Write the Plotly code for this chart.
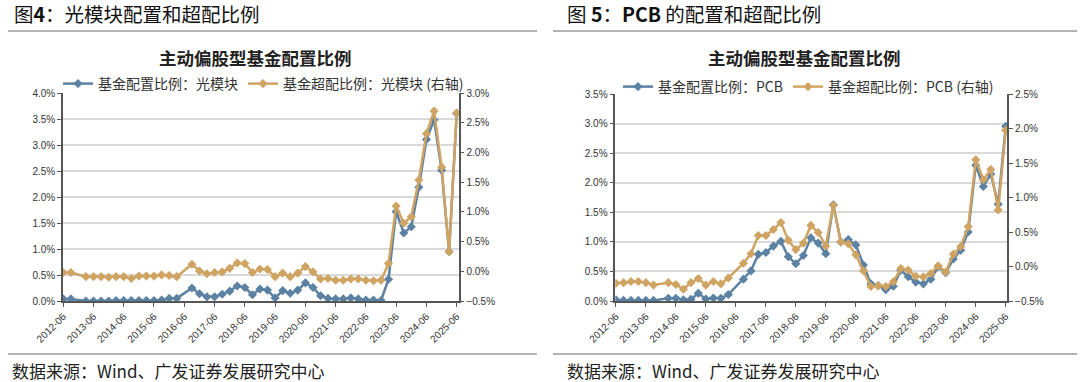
import plotly.graph_objects as go

# ---------------- data ----------------
quarters = [f"{y}-{m:02d}" for y in range(2012, 2026) for m in (3, 6, 9, 12)]
quarters = [q for q in quarters if "2012-06" <= q <= "2025-06"]

# 光模块 (%)
om_alloc = [0.04, 0.04, None, 0.00, 0.00, 0.00, 0.00, 0.01, 0.01, 0.01, 0.01, 0.01, 0.01,
            0.02, 0.05, 0.05, None, 0.25, 0.14, 0.08, 0.08, 0.13, 0.19, 0.29, 0.26, 0.12,
            0.23, 0.21, 0.06, 0.20, 0.15, 0.21, 0.35, 0.26, 0.10, 0.05, 0.04, 0.04, 0.06,
            0.04, 0.02, 0.02, 0.01, 0.42, 1.72, 1.31, 1.43, 2.19, 3.11, 3.49, 2.52, 0.95, 3.61]
om_over = [-0.02, -0.02, None, -0.09, -0.09, -0.09, -0.10, -0.09, -0.09, -0.12, -0.08, -0.08,
           -0.08, -0.06, -0.07, -0.09, None, 0.12, 0.005, -0.04, -0.02, -0.01, 0.05, 0.14,
           0.13, -0.02, 0.04, 0.03, -0.09, -0.03, -0.09, -0.03, 0.08, -0.01, -0.13, -0.12,
           -0.15, -0.15, -0.13, -0.13, -0.15, -0.16, -0.15, 0.13, 1.10, 0.81, 0.92, 1.54,
           2.32, 2.70, 1.76, 0.33, 2.67]

# PCB (%)
pcb_alloc = [0.02, 0.01, 0.01, 0.01, 0.01, 0.01, None, 0.045, 0.045, 0.02, 0.03, 0.13, 0.035,
             0.05, 0.045, 0.11, None, 0.37, 0.51, 0.79, 0.82, 0.93, 1.01, 0.75, 0.63, 0.77,
             1.07, 0.98, 0.80, 1.63, 1.00, 1.04, 0.95, 0.61, 0.29, 0.26, 0.19, 0.25, 0.52,
             0.41, 0.32, 0.29, 0.37, 0.58, 0.48, 0.71, 0.86, 1.17, 2.30, 1.94, 2.15, 1.64, 2.96]
pcb_over = [-0.243, -0.234, -0.217, -0.217, -0.234, -0.269, None, -0.234, -0.26, -0.329,
            -0.234, -0.174, -0.269, -0.217, -0.251, -0.166, None, 0.048, 0.186, 0.451, 0.451,
            0.537, 0.64, 0.383, 0.246, 0.34, 0.597, 0.494, 0.30, 0.89, 0.36, 0.33, 0.17,
            -0.06, -0.29, -0.28, -0.29, -0.22, -0.03, -0.05, -0.14, -0.15, -0.10, 0.01,
            -0.08, 0.18, 0.29, 0.58, 1.55, 1.26, 1.41, 0.82, 1.98]

year_ticks = [f"{y}-06" for y in range(2012, 2026)]

BLUE = "#5b81a3"
GOLD = "#cfa463"
CJK = "Noto Sans CJK SC"
LAT = "Liberation Sans"

W, H = 1080, 382
def px(x):
    return x / W
def py(y):
    return 1 - y / H

fig = go.Figure()

def add_pair(xa, ya_l, ya_r, leg, alloc, over, name_a, name_o):
    fig.add_trace(go.Scatter(x=quarters, y=alloc, name=name_a, mode="lines+markers",
                             line=dict(color=BLUE, width=2.5), connectgaps=True,
                             marker=dict(symbol="diamond", size=7, color=BLUE),
                             xaxis=xa, yaxis=ya_l, legend=leg))
    fig.add_trace(go.Scatter(x=quarters, y=over, name=name_o, mode="lines+markers",
                             line=dict(color=GOLD, width=2.5), connectgaps=True,
                             marker=dict(symbol="diamond", size=7, color=GOLD),
                             xaxis=xa, yaxis=ya_r, legend=leg))

add_pair("x", "y", "y2", "legend", om_alloc, om_over,
         "基金配置比例：光模块", "基金超配比例：光模块 (右轴)")
add_pair("x2", "y3", "y4", "legend2", pcb_alloc, pcb_over,
         "基金配置比例：PCB", "基金超配比例：PCB (右轴)")

tickfont = dict(family=LAT, size=10, color="#333333")
AX = "#555555"

def xaxis(dom, rng, anchor):
    return dict(domain=dom, type="date", range=rng, tickmode="array",
                tickvals=year_ticks, ticktext=year_ticks, tickangle=-45,
                tickfont=tickfont, showgrid=False, showline=True, linecolor=AX,
                linewidth=1.5, ticks="outside", ticklen=4, tickcolor=AX,
                anchor=anchor, zeroline=False, automargin=False)

def yleft(dom, rng, dt, anchor):
    return dict(domain=dom, range=rng, dtick=dt, tick0=0, tickformat=".1f", ticksuffix="%",
                tickfont=tickfont, showgrid=True, gridcolor="#d9d9d9", gridwidth=1.5,
                showline=True, linecolor=AX, linewidth=1.5, ticks="outside", ticklen=4,
                tickcolor=AX, zeroline=False, anchor=anchor, automargin=False)

def yright(over, rng, anchor):
    return dict(overlaying=over, side="right", range=rng, dtick=0.5, tick0=0,
                tickformat=".1f", ticksuffix="%", tickfont=tickfont, showgrid=False,
                showline=True, linecolor=AX, linewidth=1.5, ticks="outside", ticklen=4,
                tickcolor=AX, zeroline=False, anchor=anchor, automargin=False)

ydom1 = [py(301), py(93.3)]
ydom2 = [py(301), py(94.3)]

fig.update_layout(
    width=W, height=H, margin=dict(l=0, r=0, t=0, b=0, autoexpand=False),
    paper_bgcolor="white", plot_bgcolor="white",
    xaxis=xaxis([px(63), px(458.7)], ["2012-05-29", "2025-06-25"], "y"),
    yaxis=yleft(ydom1, [0, 4.0], 0.5, "x"),
    yaxis2=yright("y", [-0.5, 3.0], "x"),
    xaxis2=xaxis([px(615.3), px(1007.3)], ["2012-05-24", "2025-06-20"], "y3"),
    yaxis3=yleft(ydom2, [0, 3.5], 0.5, "x2"),
    yaxis4=yright("y3", [-0.5, 2.5], "x2"),
    legend=dict(orientation="h", x=px(58), y=py(84), xanchor="left", yanchor="middle",
                font=dict(family=CJK, size=14, color="#333333"), bgcolor="rgba(0,0,0,0)",
                itemwidth=30, tracegroupgap=0),
    legend2=dict(orientation="h", x=px(618), y=py(87), xanchor="left", yanchor="middle",
                 font=dict(family=CJK, size=14, color="#333333"), bgcolor="rgba(0,0,0,0)",
                 itemwidth=30, tracegroupgap=0),
    showlegend=True,
)

annotations = [
    dict(text="图<b>4</b>：光模块配置和超配比例", x=px(12), y=py(14), xanchor="left",
         yanchor="middle", font=dict(family=CJK, size=19.5, color="#111111")),
    dict(text="图 <b>5</b>：<b>PCB</b> 的配置和超配比例", x=px(565), y=py(14), xanchor="left",
         yanchor="middle", font=dict(family=CJK, size=19.5, color="#111111")),
    dict(text="<b>主动偏股型基金配置比例</b>", x=px(255), y=py(57), xanchor="center",
         yanchor="middle", font=dict(family=CJK, size=17.5, color="#222222")),
    dict(text="<b>主动偏股型基金配置比例</b>", x=px(804), y=py(57), xanchor="center",
         yanchor="middle", font=dict(family=CJK, size=17.5, color="#222222")),
    dict(text="数据来源：Wind、广发证券发展研究中心", x=px(10), y=py(370), xanchor="left",
         yanchor="middle", font=dict(family=CJK, size=17, color="#222222")),
    dict(text="数据来源：Wind、广发证券发展研究中心", x=px(565), y=py(370), xanchor="left",
         yanchor="middle", font=dict(family=CJK, size=17, color="#222222")),
]
for a in annotations:
    a.update(xref="paper", yref="paper", showarrow=False)
fig.update_layout(annotations=annotations)

shapes = []
for (x0, x1) in [(8, 537), (553, 1077)]:
    for yy in (31, 354):
        shapes.append(dict(type="line", xref="paper", yref="paper", x0=px(x0), x1=px(x1),
                           y0=py(yy), y1=py(yy), line=dict(color="#666666", width=1.2)))
fig.update_layout(shapes=shapes)

fig.write_html("out.html", config={"displayModeBar": False},
               post_script="document.body.style.margin='0';document.body.style.overflow='hidden';")
